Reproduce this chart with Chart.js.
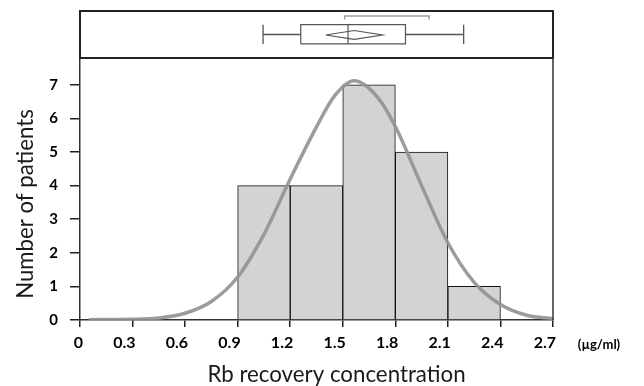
<!DOCTYPE html>
<html>
<head>
<meta charset="utf-8">
<script src="https://cdn.jsdelivr.net/npm/chart.js@4"></script>
<style>
  html,body{margin:0;padding:0;background:#fff;}
  #wrap{width:644px;height:386px;}
</style>
</head>
<body>
<div id="wrap"><canvas id="histChart" width="644" height="386"></canvas></div>
<script>
// histogram bins (µg/ml) and counts
const binCenters = [1.05, 1.35, 1.65, 1.95, 2.25];
const patientCounts = [4, 4, 7, 5, 1];

// fitted normal curve
const curveX = [0.05, 0.3, 0.45, 0.6, 0.75, 0.9, 1.05, 1.2, 1.35, 1.45, 1.565, 1.7, 1.8, 1.95, 2.1, 2.25, 2.4, 2.55, 2.7];
const curveY = [0.01, 0.02, 0.06, 0.2, 0.55, 1.28, 2.55, 4.2, 5.75, 6.65, 7.12, 6.62, 5.76, 4.0, 2.3, 1.12, 0.46, 0.14, 0.04];

// box plot on top
const whiskers = [1.045, 2.19];
const quartiles = [1.26, 1.53, 1.858];   // Q1, median, Q3
const meanDiamond = [1.403, 1.565, 1.727]; // lower, mean, upper
const shortestHalf = [1.511, 1.993];

const xTicks = [0, 0.3, 0.6, 0.9, 1.2, 1.5, 1.8, 2.1, 2.4, 2.7];
const yTicks = [0, 1, 2, 3, 4, 5, 6, 7];

const xTitle = 'Rb recovery concentration';
const yTitle = 'Number of patients';
const unitLabel = '(\u00b5g/ml)';

const FONT = 'Lato, "Open Sans", sans-serif';
const BOX_DARK = '#555';

// size a title font so it spans the same width as in the picture
function fitSize(text, target){
    const m = document.createElement('canvas').getContext('2d');
    m.font = '100px ' + FONT;
    return 100 * target / m.measureText(text).width;
}
const xTitleSize = fitSize(xTitle, 258);
const yTitleSize = fitSize(yTitle, 190);

function seg(pts, color, width){
    return {type:'line', yAxisID:'y2', data:pts.map(p=>({x:p[0], y:p[1]})),
        borderColor:color, borderWidth:width, pointRadius:0, tension:0, fill:false, order:0};
}

const [q1, med, q3] = quartiles;
const [dLo, dMean, dHi] = meanDiamond;
const boxSets = [
    seg([[whiskers[0],0.5],[q1,0.5]], BOX_DARK, 1.3),
    seg([[q3,0.5],[whiskers[1],0.5]], BOX_DARK, 1.3),
    seg([[whiskers[0],0.3],[whiskers[0],0.71]], BOX_DARK, 1.3),
    seg([[whiskers[1],0.3],[whiskers[1],0.71]], BOX_DARK, 1.3),
    seg([[q1,0.3],[q1,0.71],[q3,0.71],[q3,0.3],[q1,0.3]], BOX_DARK, 1.2),
    seg([[med,0.3],[med,0.71]], BOX_DARK, 1.2),
    seg([[dLo,0.49],[dMean,0.585],[dHi,0.49],[dMean,0.395],[dLo,0.49]], BOX_DARK, 1.2),
    seg([[shortestHalf[0],0.82],[shortestHalf[0],0.895],[shortestHalf[1],0.895],[shortestHalf[1],0.82]], '#a0a0a0', 1.5)
];

// frame around the box panel, right edge of the plot, titles and unit
const framePlugin = {
    id:'frame',
    afterDraw(chart){
        const {ctx, scales:{x, y, y2}} = chart;
        ctx.save();
        ctx.strokeStyle = '#222';
        ctx.lineWidth = 2;
        ctx.strokeRect(x.left, y2.top, x.right - x.left, y2.bottom - y2.top);
        ctx.lineWidth = 1.5;
        ctx.strokeStyle = '#333';
        ctx.beginPath();
        ctx.moveTo(x.right, y.top);
        ctx.lineTo(x.right, y.bottom);
        ctx.stroke();

        ctx.fillStyle = '#000';
        ctx.font = 'bold 13px ' + FONT;
        ctx.textAlign = 'center';
        ctx.textBaseline = 'middle';
        ctx.fillText(unitLabel, x.right + 46, y.bottom + 25);

        ctx.fillStyle = '#1a1a1a';
        ctx.font = xTitleSize.toFixed(1) + 'px ' + FONT;
        ctx.textBaseline = 'alphabetic';
        ctx.fillText(xTitle, (x.left + x.right) / 2 + 20, y.bottom + 62);

        ctx.font = yTitleSize.toFixed(1) + 'px ' + FONT;
        ctx.translate(y.left + 33, (y.top + y.bottom) / 2 + 15);
        ctx.rotate(-Math.PI / 2);
        ctx.fillText(yTitle, 0, 0);
        ctx.restore();
    }
};

// vertical axes: fixed width, no extra room for tick labels
const fixLeft = s=>{ s.width = 80; s.paddingTop = 0; s.paddingBottom = 0; };

const ctx = document.getElementById('histChart').getContext('2d');
const histChart = new Chart(ctx, {
    type:'bar',
    data:{datasets:[
        {type:'line', data:curveX.map((v,i)=>({x:v, y:curveY[i]})), borderColor:'rgba(145,145,145,0.9)',
            borderWidth:3.5, pointRadius:0, cubicInterpolationMode:'monotone', fill:false, order:0, yAxisID:'y'},
        {data:binCenters.map((v,i)=>({x:v, y:patientCounts[i]})), backgroundColor:'#d3d3d3',
            borderColor:'#111', borderWidth:1, barPercentage:1, categoryPercentage:1, order:1, yAxisID:'y'},
        ...boxSets
    ]},
    options:{
        responsive:false,
        animation:false,
        events:[],
        layout:{padding:{top:11, right:91, bottom:0, left:0}},
        plugins:{legend:{display:false}, tooltip:{enabled:false}},
        scales:{
            x:{type:'linear', min:0, max:2.7, offset:false,
                afterBuildTicks:s=>{ s.ticks = xTicks.map(v=>({value:v})); },
                afterFit:s=>{ s.height = 66; },
                grid:{display:true, drawOnChartArea:false, drawTicks:true, tickLength:7, color:'#222', lineWidth:1.5, offset:false},
                border:{display:true, color:'#333', width:1.5},
                ticks:{color:'#000', font:{family:FONT, size:16, weight:'bold'}, padding:6, maxRotation:0,
                    align:'end', labelOffset:3, callback:v=>String(v)}
            },
            y:{type:'linear', min:0, max:7.8, stack:'v', stackWeight:262,
                afterBuildTicks:s=>{ s.ticks = yTicks.map(v=>({value:v})); },
                afterFit:fixLeft,
                grid:{display:true, drawOnChartArea:false, drawTicks:true, tickLength:10, color:'#222', lineWidth:1.5},
                border:{display:true, color:'#333', width:1.5},
                ticks:{color:'#000', font:{family:FONT, size:15, weight:'bold'}, padding:12}
            },
            y2:{type:'linear', min:0, max:1, stack:'v', stackWeight:47, offset:false,
                afterFit:fixLeft,
                grid:{display:false}, border:{display:false},
                ticks:{display:false}
            }
        }
    },
    plugins:[framePlugin]
});
</script>
</body>
</html>
